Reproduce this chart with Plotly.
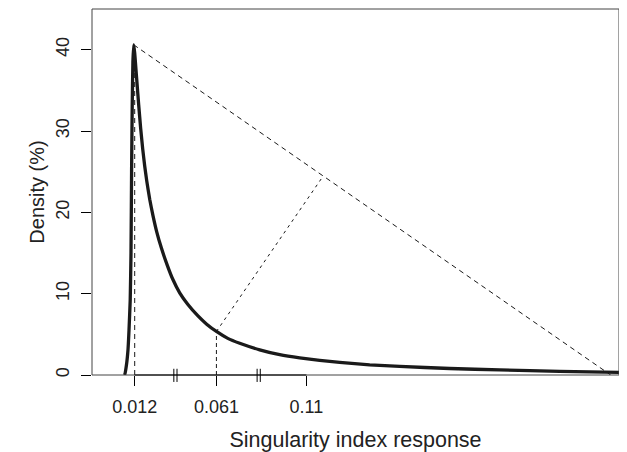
import plotly.graph_objects as go

# Axis positions (schematic, broken x-axis: 0..100 across the plot box)
tick_pos = [8.10, 23.61, 40.68]
tick_labels = ["0.012", "0.061", "0.11"]
break_pos = [15.83, 31.63]

# Density curve
curve_x = [6.00, 6.20, 6.53, 6.83, 7.02, 7.25, 7.40, 7.51, 7.63, 7.76, 7.91,
           8.10, 8.29, 8.54, 8.86, 9.24, 9.62, 10.00, 10.38, 10.95, 11.57,
           12.28, 13.17, 14.17, 15.31, 16.64, 18.16, 20.06, 21.76, 23.61,
           25.76, 28.03, 31.82, 35.62, 39.41, 43.21, 47.00,
           52.69, 58.39, 67.88, 77.37, 88.75, 100.0]
curve_y = [0.0, 0.05, 1.2, 3.1, 5.5, 9.2, 15.0, 25.0, 33.0, 38.5, 40.6,
           39.6, 38.0, 35.9, 33.2, 30.3, 27.8, 25.7, 23.9, 21.6, 19.6,
           17.6, 15.6, 13.7, 11.8, 10.1, 8.7, 7.3, 6.25, 5.35,
           4.5, 3.9, 3.1, 2.5, 2.1, 1.8, 1.55,
           1.25, 1.05, 0.8, 0.62, 0.45, 0.32]

# Construction lines
peak = (7.91, 40.6)
diag_end = (98.42, 0.0)
knee = (23.61, 5.35)
knee_proj = (43.59, 24.2)

y_ticks = [0, 10, 20, 30, 40]

FONT = "Liberation Sans, Arial, Helvetica, sans-serif"
INK = "#1a1a1a"

fig = go.Figure()

fig.add_trace(go.Scatter(x=[tick_pos[0], tick_pos[0]], y=[0, peak[1]], mode="lines",
                         line=dict(color=INK, width=1, dash="5px,4px"), hoverinfo="skip"))
fig.add_trace(go.Scatter(x=[peak[0], diag_end[0]], y=[peak[1], diag_end[1]], mode="lines",
                         line=dict(color=INK, width=1, dash="5px,4px"), hoverinfo="skip"))
fig.add_trace(go.Scatter(x=[knee[0], knee[0]], y=[0, knee[1]], mode="lines",
                         line=dict(color=INK, width=1, dash="4px,3px"), hoverinfo="skip"))
fig.add_trace(go.Scatter(x=[knee[0], knee_proj[0]], y=[knee[1], knee_proj[1]], mode="lines",
                         line=dict(color=INK, width=1, dash="3px,4px"), hoverinfo="skip"))
fig.add_trace(go.Scatter(x=curve_x, y=curve_y, mode="lines",
                         line=dict(color=INK, width=3.3, shape="spline", smoothing=0.4),
                         hoverinfo="skip"))

shapes = [
    dict(type="rect", xref="paper", yref="paper", x0=0, x1=1, y0=0, y1=1,
         line=dict(color="#444", width=1), layer="above"),
    dict(type="line", xref="x", yref="paper", x0=tick_pos[0], x1=tick_pos[-1], y0=0, y1=0,
         line=dict(color="black", width=1.2), layer="above"),
]
for b in break_pos:
    for off in (-0.3, 0.3):
        shapes.append(dict(type="line", xref="x", yref="paper", x0=b + off, x1=b + off,
                           y0=-0.019, y1=0.017, line=dict(color="black", width=1),
                           layer="above"))

fig.update_layout(
    width=619, height=444,
    margin=dict(l=84, r=8, t=1, b=77),
    paper_bgcolor="white", plot_bgcolor="white",
    showlegend=False,
    font=dict(family=FONT, color="#222"),
    shapes=shapes,
    xaxis=dict(range=[0, 100], showgrid=False, zeroline=False, showline=False,
               tickmode="array", tickvals=tick_pos, ticktext=tick_labels,
               ticks="outside", ticklen=10, tickcolor="black", tickwidth=1,
               tickfont=dict(size=18, family=FONT, color="#222"),
               ticklabelstandoff=5,
               title=dict(text="Singularity index response", font=dict(size=21.5, family=FONT, color="#222"),
                          standoff=17)),
    yaxis=dict(range=[0, 45], showgrid=False, zeroline=False, showline=False,
               tickmode="array", tickvals=y_ticks, ticktext=[str(v) for v in y_ticks],
               ticks="outside", ticklen=10, tickcolor="black", tickwidth=1,
               tickangle=-90,
               tickfont=dict(size=18, family=FONT, color="#222"),
               ticklabelstandoff=5,
               title=dict(text="Density (%)", font=dict(size=20, family=FONT, color="#222"),
                          standoff=2)),
)

fig.write_html("out.html", config={"displayModeBar": False})
